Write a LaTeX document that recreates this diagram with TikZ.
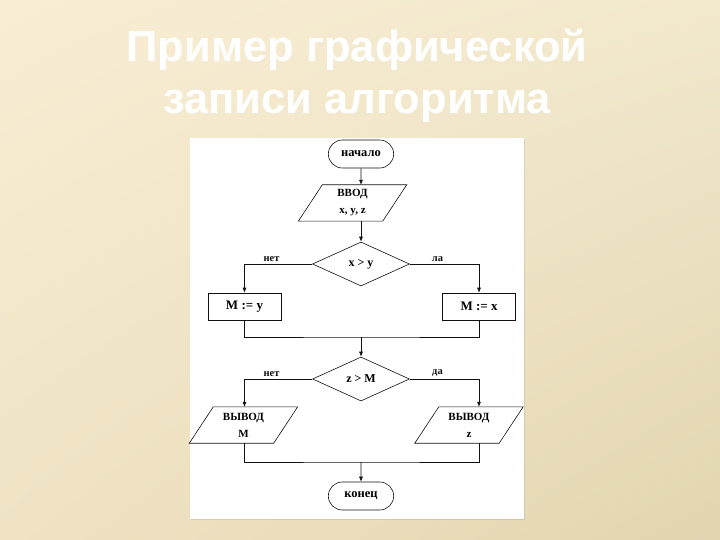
\documentclass[tikz,border=0pt]{standalone}
\usepackage{fontspec}
\setmainfont{Liberation Serif}
\newfontfamily\titlefont{Liberation Sans}
\usetikzlibrary{shapes.geometric,shapes.misc,arrows.meta,shadows,shadings}

\definecolor{bgA}{HTML}{F9EED4}
\definecolor{bgB}{HTML}{F2E8CC}
\definecolor{bgC}{HTML}{EFE3C4}
\definecolor{bgD}{HTML}{E2D6B1}
\definecolor{ink}{HTML}{111111}

\tikzset{
  term/.style={draw=ink, line width=0.6pt, rounded rectangle, minimum width=72pt, minimum height=28pt, font=\bfseries\fontsize{12.5}{13}\selectfont},
  io/.style={rectangle, minimum width=84pt, minimum height=36pt, align=center, inner sep=1pt, font=\bfseries\fontsize{11}{17}\selectfont},
  cond/.style={draw=ink, line width=0.6pt, diamond, minimum width=97pt, minimum height=44pt, inner sep=0pt, font=\bfseries\fontsize{12}{13}\selectfont},
  act/.style={draw=ink, line width=0.6pt, rectangle, minimum width=73pt, minimum height=27pt, font=\bfseries\fontsize{13}{14}\selectfont},
  lbl/.style={font=\bfseries\fontsize{10.5}{11}\selectfont, text=ink},
  arr/.style={draw=ink, line width=0.6pt, -{Latex[length=5pt,width=4pt]}},
  ln/.style={draw=ink, line width=0.6pt}
}

\begin{document}
\begin{tikzpicture}[x=1pt,y=-1pt]
\useasboundingbox (0,0) rectangle (720,540);
\shade[upper left=bgA, upper right=bgB, lower left=bgC, lower right=bgD] (0,0) rectangle (720,540);
% title
\node[text=white, font=\titlefont\bfseries\fontsize{43.5}{52}\selectfont, align=center] (title) at (357,76)
  {Пример графической\\записи алгоритма};
% white sheet
\fill[white, drop shadow={opacity=0.2, shadow xshift=1pt, shadow yshift=-1pt}] (190,138) rectangle (524,519);

% blocks
\node[term] (start) at (361,154) {начало};
\node[io] (inp) at (352.5,203) {ВВОД\\x, y, z};
\node[cond] (c1) at (361,264) {x > y};
\node[act] (my) at (244.5,306.5) {M := y};
\node[act] (mx) at (479,306.5) {M := x};
\coordinate (j1) at (361,337);
\node[cond] (c2) at (361,379) {z > M};
\node[io] (outm) at (243.5,425) {ВЫВОД\\M};
\node[io] (outz) at (469,425) {ВЫВОД\\z};
\coordinate (j2) at (361,462);
\node[term] (stop) at (361,496) {конец};
% slanted outlines of the io blocks
\foreach \n in {inp,outm,outz}
  \draw[ln] ([xshift=12pt]\n.north west) -- ([xshift=12pt]\n.north east)
    -- ([xshift=-12pt]\n.south east) -- ([xshift=-12pt]\n.south west) -- cycle;

% connectors
\draw[arr] (start) -- (start |- inp.north);
\draw[arr] (start |- inp.south) -- (c1);
\draw[arr] (c1.west) -| (my.north) node[lbl, pos=0.3, above=-1pt] {нет};
\draw[arr] (c1.east) -| (mx.north) node[lbl, pos=0.2, above=-1pt] {ла};
\draw[ln] (my.south) |- (j1) -| (mx.south);
\draw[arr] (j1) -- (c2);
\draw[arr] (c2.west) -| (my.south |- outm.north) node[lbl, pos=0.3, above=-1pt] {нет};
\draw[arr] (c2.east) -| (mx.south |- outz.north) node[lbl, pos=0.2, above=-1pt] {да};
\draw[ln] (my.south |- outm.south) |- (j2) -| (mx.south |- outz.south);
\draw[arr] (j2) -- (stop);
\end{tikzpicture}
\end{document}
